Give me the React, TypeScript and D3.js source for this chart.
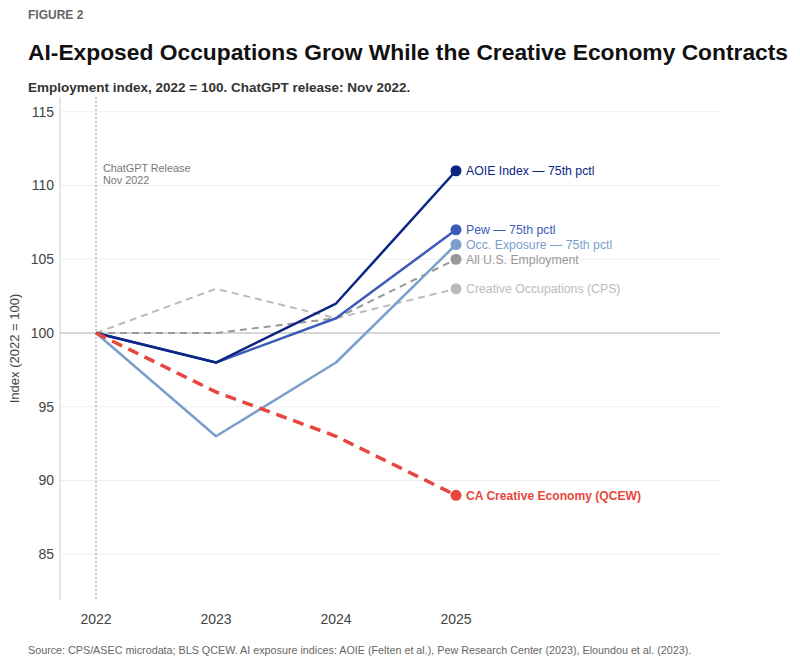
import React from 'react'
import * as d3 from 'd3'

const years = [2022, 2023, 2024, 2025]
const yTicks = [85, 90, 95, 100, 105, 110, 115]

const aoieValues = [100, 98, 102, 111]
const pewValues = [100, 98, 101, 107]
const occValues = [100, 93, 98, 106]
const allUsValues = [100, 100, 101, 105]
const creativeCpsValues = [100, 103, 101, 103]
const caCreativeValues = [100, 96, 93, 89]

interface Series {
  id: string
  label: string
  color: string
  values: number[]
  dash?: string
  width: number
  bold?: boolean
}

const series: Series[] = [
  { id: 'cps', label: 'Creative Occupations (CPS)', color: '#bbbbbb', values: creativeCpsValues, dash: '7,5', width: 2 },
  { id: 'all', label: 'All U.S. Employment', color: '#999999', values: allUsValues, dash: '7,5', width: 2 },
  { id: 'occ', label: 'Occ. Exposure — 75th pctl', color: '#7b9fcc', values: occValues, width: 2.5 },
  { id: 'pew', label: 'Pew — 75th pctl', color: '#3a5cb8', values: pewValues, width: 2.5 },
  { id: 'aoie', label: 'AOIE Index — 75th pctl', color: '#0b2585', values: aoieValues, width: 2.5 },
  { id: 'ca', label: 'CA Creative Economy (QCEW)', color: '#e8463c', values: caCreativeValues, dash: '11,7', width: 3.5, bold: true },
]

const font = '"Liberation Sans", Arial, sans-serif'

export default function App() {
  const W = 800
  const H = 666
  const left = 60
  const right = 720
  const top = 97
  const bottom = 600

  const x = d3.scaleLinear().domain([2021.7, 2027.2]).range([left, right])
  const y = d3.scaleLinear().domain([81.9, 116]).range([bottom, top])

  const line = d3.line<number>()
    .x((_, i) => x(years[i]))
    .y(d => y(d))

  const lastYear = years[years.length - 1]

  return (
    <svg width={W} height={H} style={{ position: 'absolute', left: 0, top: 0, background: '#fff' }} fontFamily={font}>
      <text x={28} y={19} fontSize={12} fontWeight="bold" fill="#666">FIGURE 2</text>
      <text x={28} y={60} fontSize={22.8} fontWeight="bold" fill="#111">AI-Exposed Occupations Grow While the Creative Economy Contracts</text>
      <text x={28} y={92} fontSize={13.5} fontWeight="bold" fill="#333">Employment index, 2022 = 100. ChatGPT release: Nov 2022.</text>

      {yTicks.map(t => (
        <g key={t}>
          <line x1={left} x2={right} y1={y(t)} y2={y(t)} stroke={t === 100 ? '#c8c8c8' : '#eeeeee'} strokeWidth={t === 100 ? 1.3 : 1} />
          <text x={54} y={y(t)} dy="0.35em" textAnchor="end" fontSize={14} fill="#444">{t}</text>
        </g>
      ))}
      <line x1={left} x2={left} y1={top} y2={bottom} stroke="#cccccc" />

      {years.map(yr => (
        <text key={yr} x={x(yr)} y={bottom + 14} dy="0.71em" textAnchor="middle" fontSize={14} fill="#444">{yr}</text>
      ))}

      <text transform={`translate(19,${(top + bottom) / 2}) rotate(-90)`} textAnchor="middle" fontSize={13} fill="#444">Index (2022 = 100)</text>

      <line x1={x(2022)} x2={x(2022)} y1={top} y2={bottom} stroke="#777" strokeWidth={1} strokeDasharray="1.5,2.5" />
      <text x={x(2022) + 7} y={172} fontSize={10.8} fill="#777">ChatGPT Release</text>
      <text x={x(2022) + 7} y={184} fontSize={10.8} fill="#777">Nov 2022</text>

      {series.map(s => (
        <g key={s.id}>
          <path d={line(s.values) || ''} fill="none" stroke={s.color} strokeWidth={s.width} strokeDasharray={s.dash} strokeLinejoin="round" />
          <circle cx={x(lastYear)} cy={y(s.values[s.values.length - 1])} r={5.5} fill={s.color} />
          <text x={x(lastYear) + 10} y={y(s.values[s.values.length - 1])} dy="0.35em" fontSize={s.bold ? 12.1 : 12.3} fontWeight={s.bold ? 'bold' : 'normal'} fill={s.color}>{s.label}</text>
        </g>
      ))}

      <text x={28} y={654} fontSize={10.75} fill="#666">Source: CPS/ASEC microdata; BLS QCEW. AI exposure indices: AOIE (Felten et al.), Pew Research Center (2023), Eloundou et al. (2023).</text>
    </svg>
  )
}
